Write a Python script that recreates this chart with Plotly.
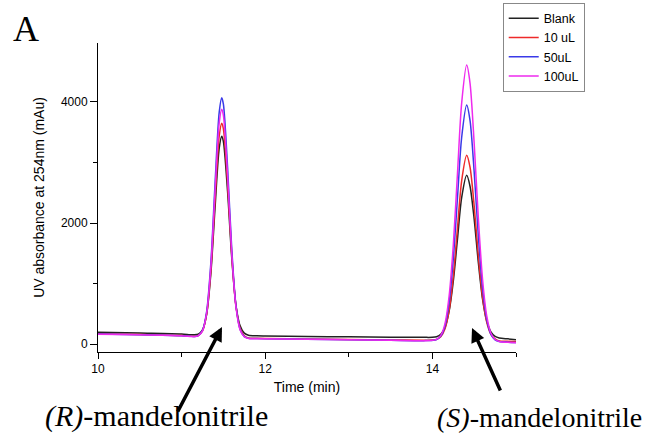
import plotly.graph_objects as go

# Retention time (min)
time_min = [10.0, 10.5, 11.0, 11.1, 11.15, 11.2, 11.25, 11.3, 11.35, 11.4, 11.45, 11.48, 11.5,
            11.55, 11.6, 11.65, 11.7, 11.75, 11.8, 11.9, 12.0, 12.5, 13.0, 13.5, 13.9,
            14.0, 14.05, 14.1, 14.15, 14.2, 14.25, 14.3, 14.35, 14.41,
            14.45, 14.5, 14.55, 14.6, 14.65, 14.7, 14.75, 14.8, 14.9, 15.0]

# UV absorbance at 254 nm (mAu)
blank = [193, 180, 165, 155, 152, 163, 233, 495, 1165, 2251, 3238, 3435, 3346,
         2520, 1420, 640, 300, 180, 145, 135, 132, 124, 118, 113, 110,
         111, 121, 159, 271, 542, 1038, 1735, 2418, 2788,
         2608, 2060, 1340, 740, 380, 200, 125, 100, 85, 72]
ul10 = [170, 158, 140, 130, 127, 141, 217, 499, 1218, 2381, 3439, 3650, 3555,
        2660, 1470, 630, 260, 135, 98, 94, 92, 82, 75, 68, 62,
        65, 76, 120, 249, 557, 1123, 1918, 2698, 3120,
        2922, 2280, 1450, 770, 360, 160, 85, 52, 45, 40]
ul50 = [165, 155, 138, 128, 124, 140, 225, 540, 1346, 2649, 3833, 4070, 3963,
        2921, 1571, 638, 238, 121, 93, 90, 88, 78, 70, 62, 56,
        60, 74, 130, 294, 687, 1407, 2420, 3413, 3950,
        3695, 2836, 1778, 918, 402, 159, 69, 42, 30, 25]
ul100 = [162, 152, 135, 126, 122, 137, 218, 519, 1286, 2526, 3654, 3880, 3778,
         2786, 1501, 613, 232, 120, 92, 89, 87, 77, 69, 61, 55,
         60, 76, 142, 333, 793, 1636, 2820, 3981, 4610,
         4313, 3309, 2072, 1067, 464, 179, 74, 43, 28, 22]

series_names = ["Blank", "10 uL", "50uL", "100uL"]
series_values = [blank, ul10, ul50, ul100]
series_colors = ["#222222", "#ee2a2a", "#3a3ae8", "#ee2aee"]

x_ticks = [10, 12, 14]
y_ticks = [0, 2000, 4000]

fig = go.Figure()
for name, vals, col in zip(series_names, series_values, series_colors):
    fig.add_trace(go.Scatter(x=time_min, y=vals, name=name, mode="lines",
                             line=dict(color=col, width=1.5, shape="spline", smoothing=0.8)))

axis_font = dict(family="Liberation Sans, Arial, sans-serif", size=12, color="black")

fig.update_layout(
    width=647, height=446,
    margin=dict(l=98, r=131, t=43, b=94, autoexpand=False),
    paper_bgcolor="white", plot_bgcolor="white",
    font=axis_font,
    showlegend=True,
    legend=dict(x=0.777, y=0.994, xref="container", yref="container",
                xanchor="left", yanchor="top",
                bgcolor="white", bordercolor="#888888", borderwidth=1,
                font=dict(family="Liberation Sans, Arial, sans-serif", size=12.5, color="black"),
                tracegroupgap=0, itemwidth=30),
    xaxis=dict(range=[10, 15], tickvals=x_ticks, ticktext=[str(v) for v in x_ticks],
               automargin=False,
               showline=True, linecolor="black", linewidth=1, mirror=False,
               ticks="outside", ticklen=6, tickwidth=1, tickcolor="black",
               minor=dict(dtick=1, tick0=10, ticks="outside", ticklen=4, tickcolor="black"),
               showgrid=False, zeroline=False,
               title=dict(text="Time (min)", font=dict(size=14), standoff=6)),
    yaxis=dict(range=[-132, 4975], tickvals=y_ticks, ticktext=[str(v) for v in y_ticks],
               automargin=False,
               showline=True, linecolor="black", linewidth=1, mirror=False,
               ticks="outside", ticklen=7, tickwidth=1, tickcolor="black",
               minor=dict(dtick=1000, tick0=0, ticks="outside", ticklen=4, tickcolor="black"),
               showgrid=False, zeroline=False,
               title=dict(text="UV absorbance at 254nm (mAu)", font=dict(size=14), standoff=12)),
)

serif = "Liberation Serif, Times New Roman, serif"
fig.add_annotation(x=-0.172, y=1.045, xref="paper", yref="paper", text="A", showarrow=False,
                   font=dict(family=serif, size=36, color="black"), xanchor="center", yanchor="middle")
fig.add_annotation(x=0.139, y=-0.207, xref="paper", yref="paper",
                   text="<i>(R)</i>-mandelonitrile", showarrow=False,
                   font=dict(family=serif, size=30, color="black"), xanchor="center", yanchor="middle")
fig.add_annotation(x=1.057, y=-0.212, xref="paper", yref="paper",
                   text="<i>(S)</i>-mandelonitrile", showarrow=False,
                   font=dict(family=serif, size=28, color="black"), xanchor="center", yanchor="middle")
# arrows
fig.add_annotation(x=11.483, y=281, xref="x", yref="y", ax=-45, ay=86, text="",
                   showarrow=True, arrowhead=2, arrowsize=0.8, arrowwidth=3.5, arrowcolor="black")
fig.add_annotation(x=14.474, y=264, xref="x", yref="y", ax=29, ay=64, text="",
                   showarrow=True, arrowhead=2, arrowsize=0.8, arrowwidth=3.5, arrowcolor="black")

fig.write_html("out.html", config={"displayModeBar": False},
               post_script="document.body.style.margin='0px';")
